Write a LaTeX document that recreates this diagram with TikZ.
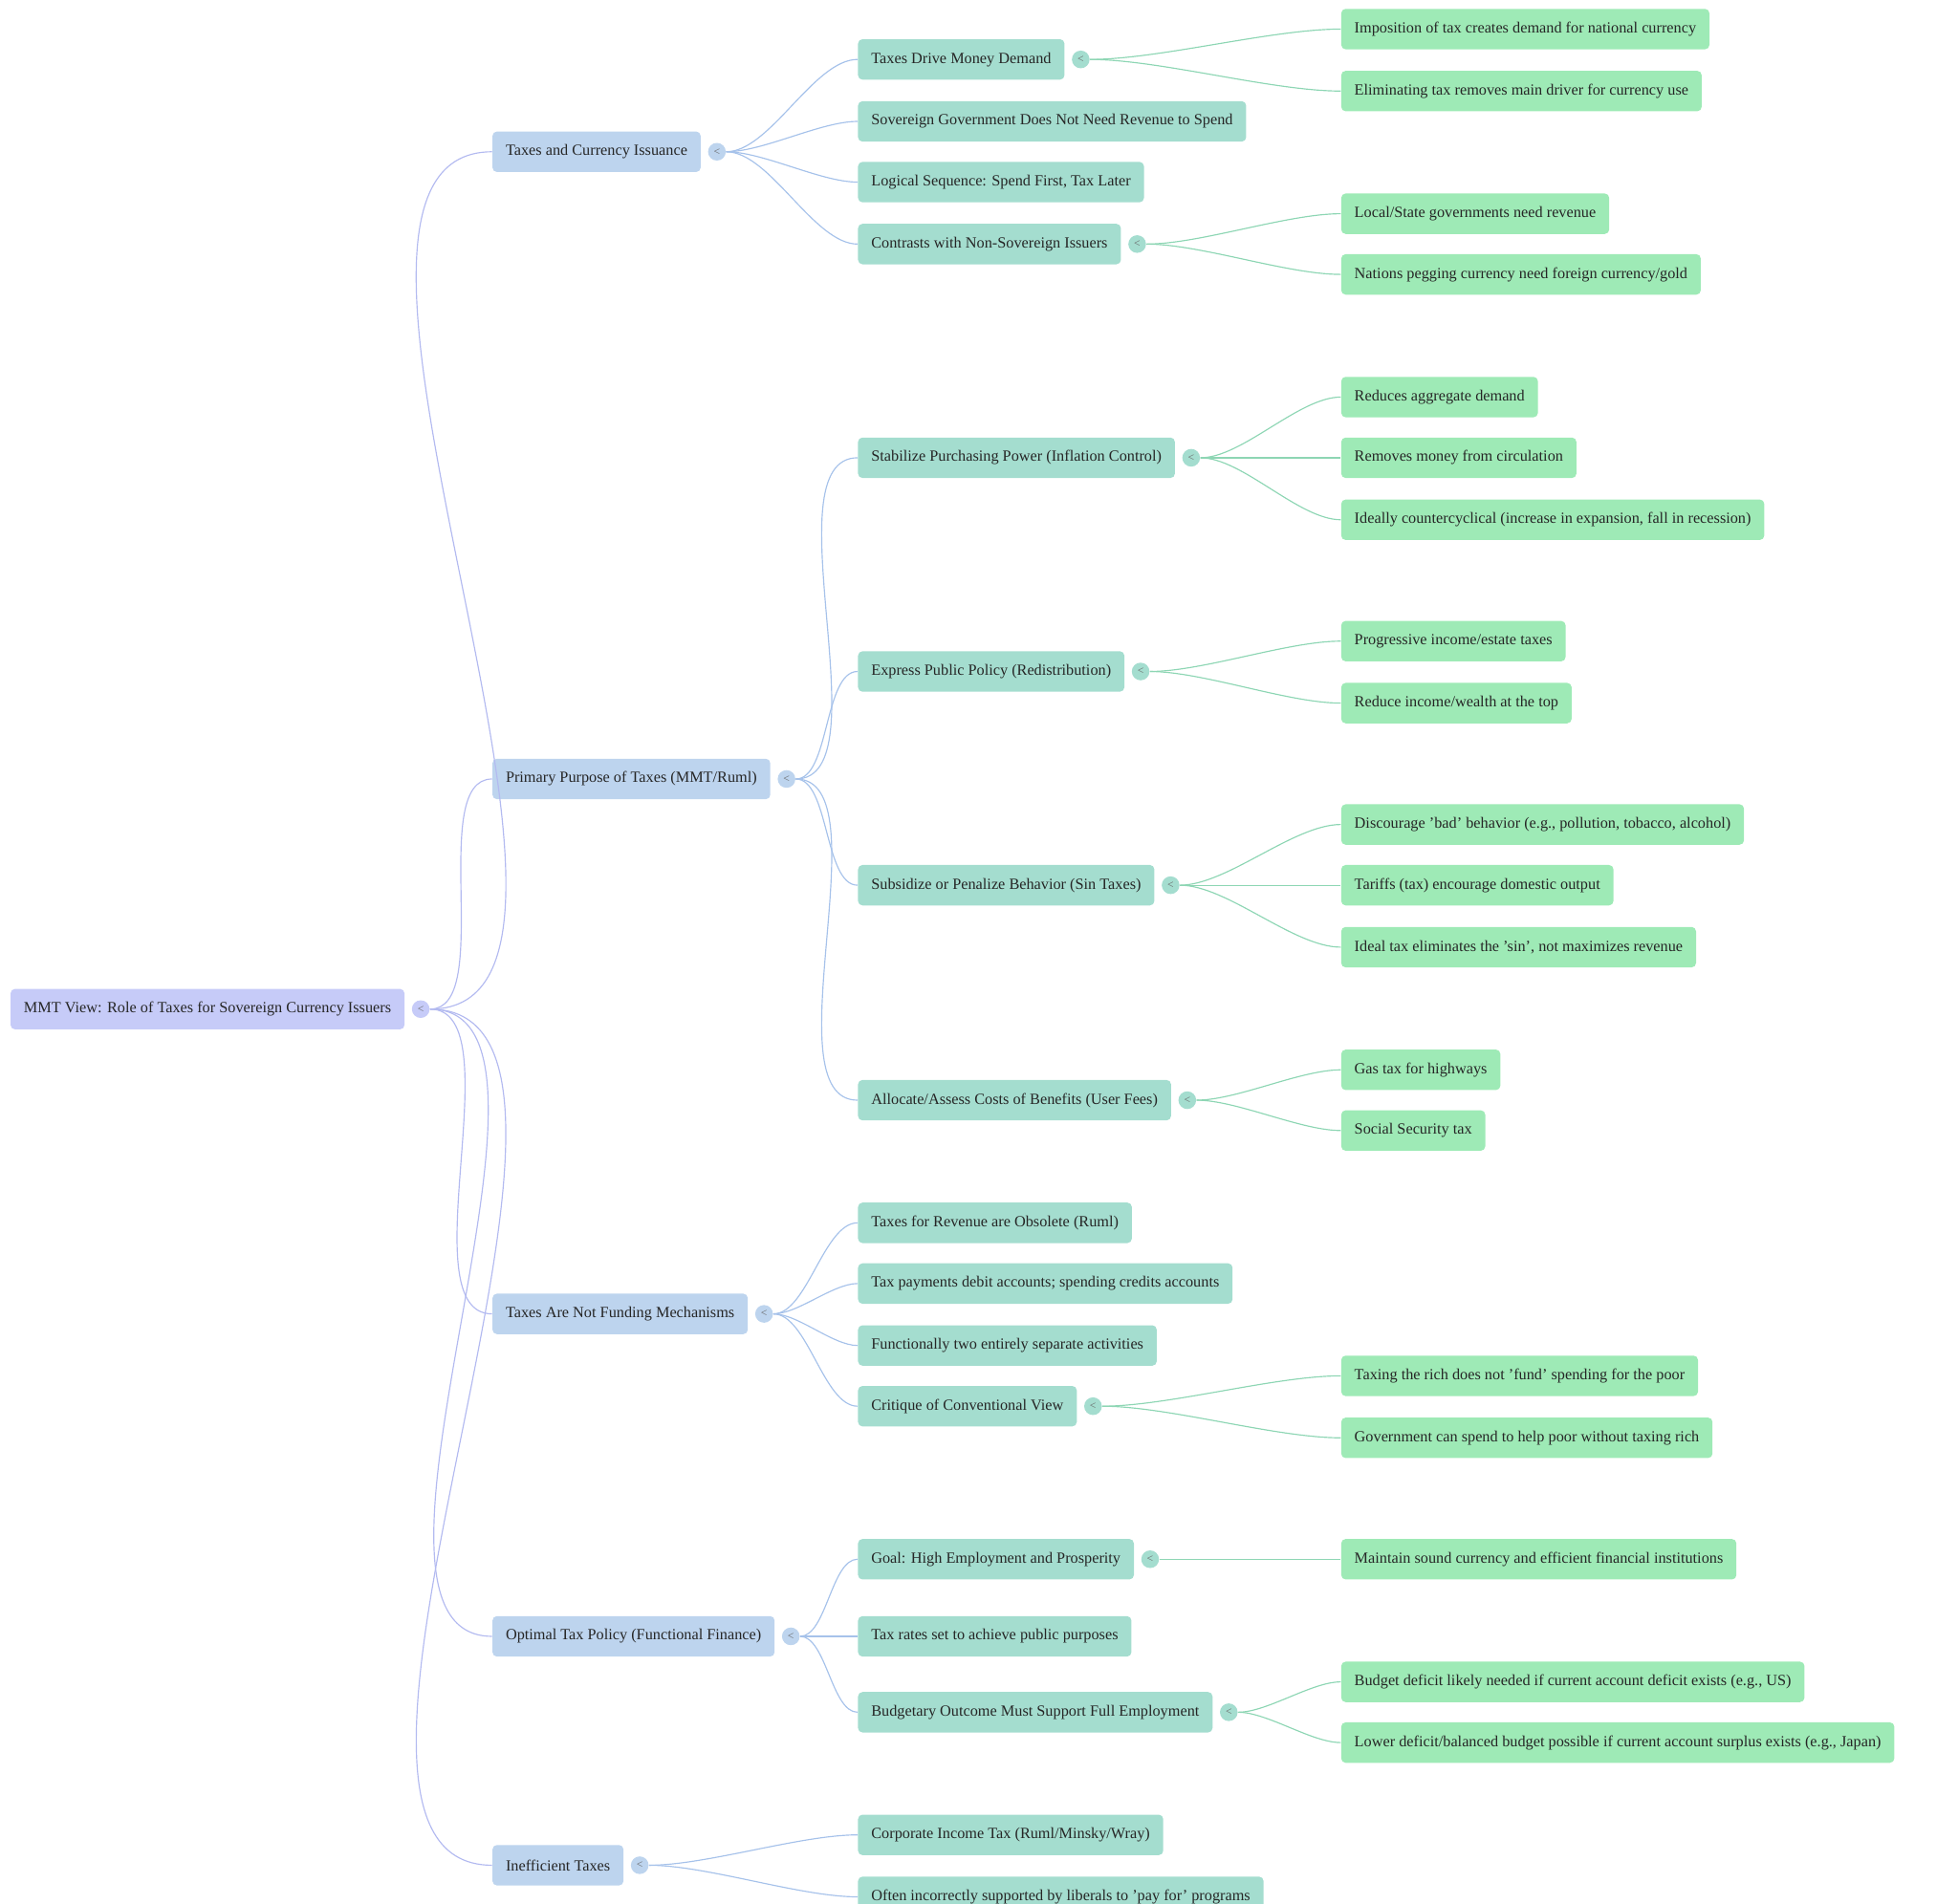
\documentclass[tikz,border=0pt]{standalone}
\usepackage{fontspec}
\setmainfont{Liberation Serif}
\definecolor{rootfill}{HTML}{C6CBF8}
\definecolor{onefill}{HTML}{BDD4EE}
\definecolor{twofill}{HTML}{A4DDCF}
\definecolor{threefill}{HTML}{9EEAB6}
\definecolor{rootline}{HTML}{B3BAF0}
\definecolor{oneline}{HTML}{A6C2EA}
\definecolor{twoline}{HTML}{8ED6B4}
\tikzset{
  box/.style={anchor=west, rounded corners=2pt, minimum height=0.64cm, inner xsep=0.21cm,
    font=\fontsize{7}{8}\selectfont, text=black!85},
  rootbox/.style={box, fill=rootfill},
  onebox/.style={box, fill=onefill},
  twobox/.style={box, fill=twofill},
  threebox/.style={box, fill=threefill},
  dot/.style={circle, inner sep=0pt, minimum size=0.28cm, font=\fontsize{5}{5}\selectfont, text=black!60},
  link/.style={line width=0.5pt, out=0, in=180, looseness=0.7},
}
\begin{document}
\begin{tikzpicture}[x=0.02cm,y=-0.02cm]
  \useasboundingbox (0,0) rectangle (1548,1505);
  % root
  \node[rootbox] (root) at (8,798) {MMT View: Role of Taxes for Sovereign Currency Issuers};
  % first level
  \node[onebox] (a) at (389,120) {Taxes and Currency Issuance};
  \node[onebox] (b) at (389,616) {Primary Purpose of Taxes (MMT/Ruml)};
  \node[onebox] (c) at (389,1039) {Taxes Are Not Funding Mechanisms};
  \node[onebox] (d) at (389,1294) {Optimal Tax Policy (Functional Finance)};
  \node[onebox] (e) at (389,1475) {Inefficient Taxes};
  % second level
  \node[twobox] (a1) at (678,47) {Taxes Drive Money Demand};
  \node[twobox] (a2) at (678,96) {Sovereign Government Does Not Need Revenue to Spend};
  \node[twobox] (a3) at (678,144) {Logical Sequence: Spend First, Tax Later};
  \node[twobox] (a4) at (678,193) {Contrasts with Non-Sovereign Issuers};
  \node[twobox] (b1) at (678,362) {Stabilize Purchasing Power (Inflation Control)};
  \node[twobox] (b2) at (678,531) {Express Public Policy (Redistribution)};
  \node[twobox] (b3) at (678,700) {Subsidize or Penalize Behavior (Sin Taxes)};
  \node[twobox] (b4) at (678,870) {Allocate/Assess Costs of Benefits (User Fees)};
  \node[twobox] (c1) at (678,967) {Taxes for Revenue are Obsolete (Ruml)};
  \node[twobox] (c2) at (678,1015) {Tax payments debit accounts; spending credits accounts};
  \node[twobox] (c3) at (678,1064) {Functionally two entirely separate activities};
  \node[twobox] (c4) at (678,1112) {Critique of Conventional View};
  \node[twobox] (d1) at (678,1233) {Goal: High Employment and Prosperity};
  \node[twobox] (d2) at (678,1294) {Tax rates set to achieve public purposes};
  \node[twobox] (d3) at (678,1354) {Budgetary Outcome Must Support Full Employment};
  \node[twobox] (e1) at (678,1451) {Corporate Income Tax (Ruml/Minsky/Wray)};
  \node[twobox] (e2) at (678,1500) {Often incorrectly supported by liberals to 'pay for' programs};
  % third level
  \node[threebox] (a11) at (1060,23) {Imposition of tax creates demand for national currency};
  \node[threebox] (a12) at (1060,72) {Eliminating tax removes main driver for currency use};
  \node[threebox] (a41) at (1060,169) {Local/State governments need revenue};
  \node[threebox] (a42) at (1060,217) {Nations pegging currency need foreign currency/gold};
  \node[threebox] (b11) at (1060,314) {Reduces aggregate demand};
  \node[threebox] (b12) at (1060,362) {Removes money from circulation};
  \node[threebox] (b13) at (1060,411) {Ideally countercyclical (increase in expansion, fall in recession)};
  \node[threebox] (b21) at (1060,507) {Progressive income/estate taxes};
  \node[threebox] (b22) at (1060,556) {Reduce income/wealth at the top};
  \node[threebox] (b31) at (1060,652) {Discourage 'bad' behavior (e.g., pollution, tobacco, alcohol)};
  \node[threebox] (b32) at (1060,700) {Tariffs (tax) encourage domestic output};
  \node[threebox] (b33) at (1060,749) {Ideal tax eliminates the 'sin', not maximizes revenue};
  \node[threebox] (b41) at (1060,846) {Gas tax for highways};
  \node[threebox] (b42) at (1060,894) {Social Security tax};
  \node[threebox] (c41) at (1060,1088) {Taxing the rich does not 'fund' spending for the poor};
  \node[threebox] (c42) at (1060,1137) {Government can spend to help poor without taxing rich};
  \node[threebox] (d11) at (1060,1233) {Maintain sound currency and efficient financial institutions};
  \node[threebox] (d31) at (1060,1330) {Budget deficit likely needed if current account deficit exists (e.g., US)};
  \node[threebox] (d32) at (1060,1378) {Lower deficit/balanced budget possible if current account surplus exists (e.g., Japan)};
  % collapse markers
  \node[dot, fill=rootfill] (rootC) at ([xshift=0.25cm]root.east) {<};
  \foreach \n in {a,b,c,d,e}
    \node[dot, fill=onefill] (\n C) at ([xshift=0.25cm]\n.east) {<};
  \foreach \n in {a1,a4,b1,b2,b3,b4,c4,d1,d3}
    \node[dot, fill=twofill] (\n C) at ([xshift=0.25cm]\n.east) {<};
  % connectors
  \foreach \n in {a,b,c,d,e}
    \draw[link, rootline] (rootC.east) to (\n.west);
  \foreach \p/\n in {a/a1,a/a2,a/a3,a/a4,b/b1,b/b2,b/b3,b/b4,c/c1,c/c2,c/c3,c/c4,d/d1,d/d2,d/d3,e/e1,e/e2}
    \draw[link, oneline] (\p C.east) to (\n.west);
  \foreach \p/\n in {a1/a11,a1/a12,a4/a41,a4/a42,b1/b11,b1/b12,b1/b13,b2/b21,b2/b22,b3/b31,b3/b32,b3/b33,b4/b41,b4/b42,c4/c41,c4/c42,d1/d11,d3/d31,d3/d32}
    \draw[link, twoline] (\p C.east) to (\n.west);
\end{tikzpicture}
\end{document}
